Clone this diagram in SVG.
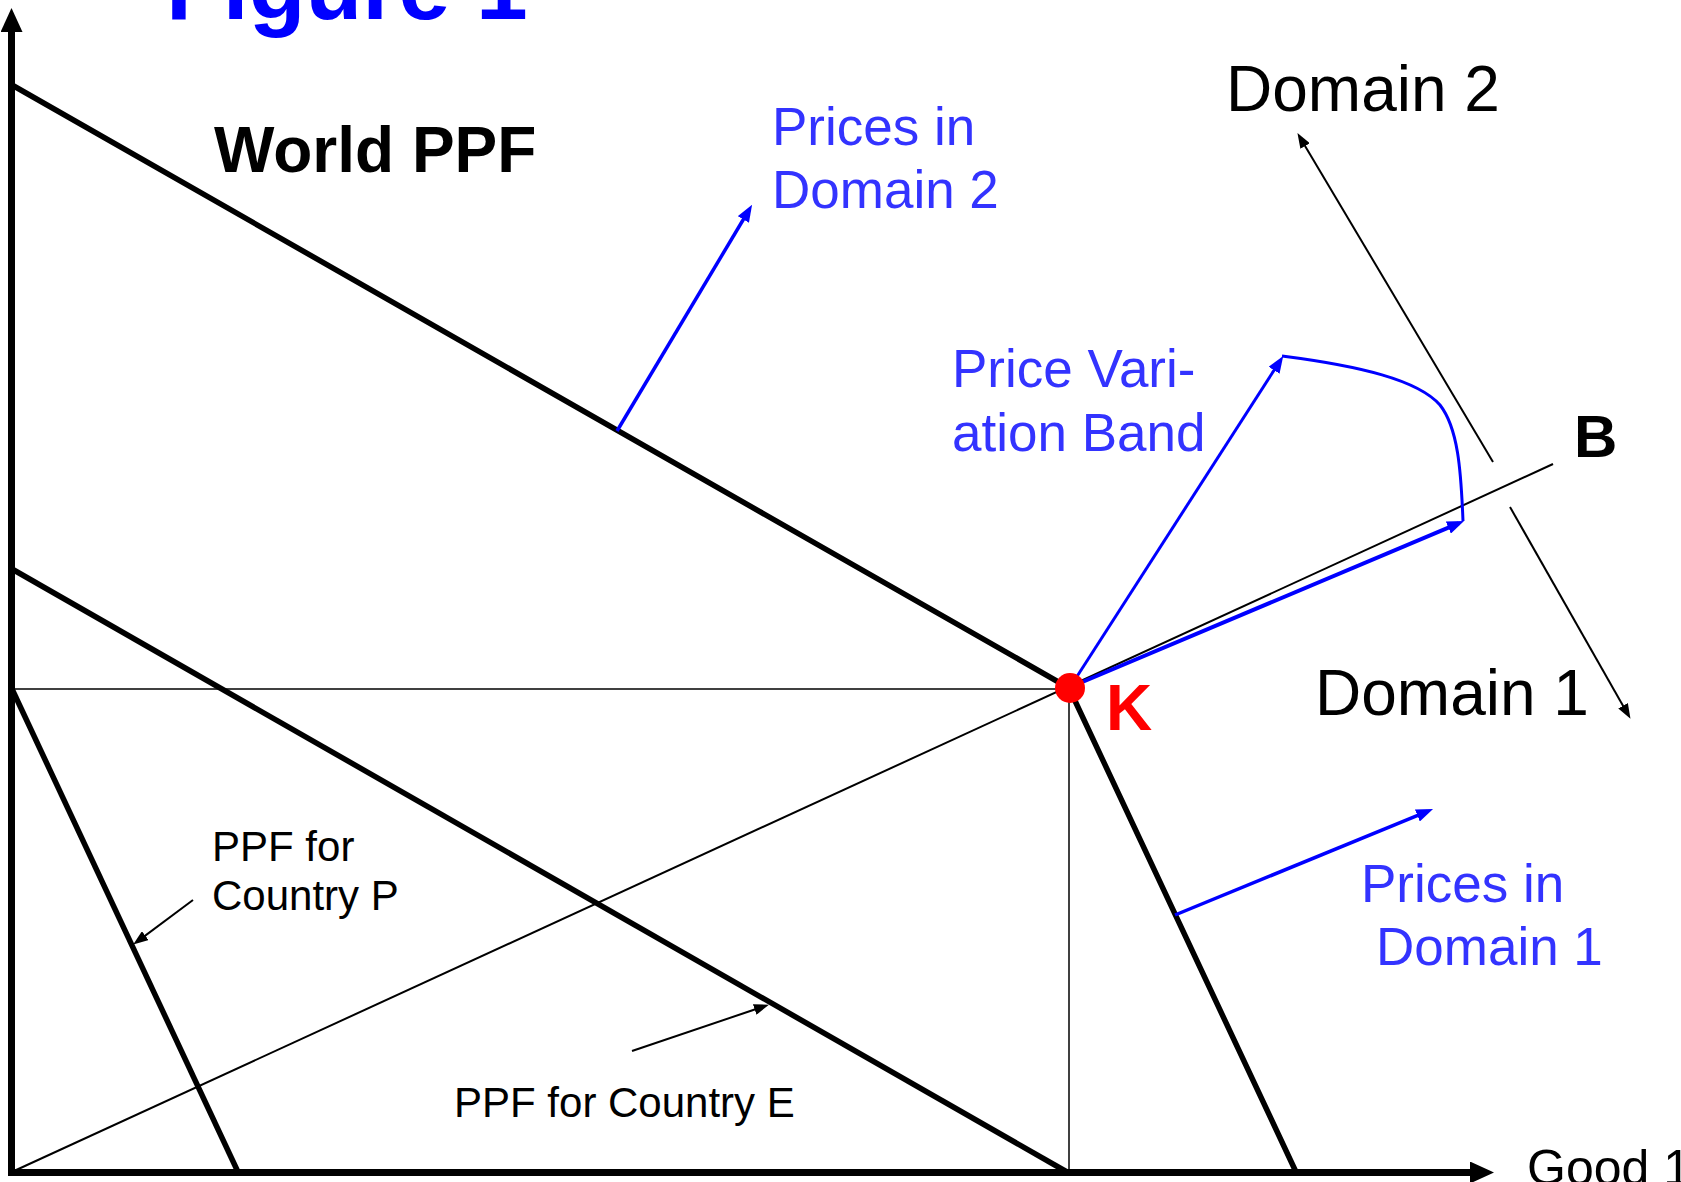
<svg xmlns="http://www.w3.org/2000/svg" width="1681" height="1182" viewBox="0 0 1681 1182">
<defs>
<style>
text{font-family:"Liberation Sans",Arial,sans-serif;}
.thick{stroke:#000;stroke-width:5.5;fill:none;}
.thin{stroke:#000;stroke-width:1.5;fill:none;}
.thin2{stroke:#000;stroke-width:2;fill:none;}
.axis{stroke:#000;stroke-width:7;fill:none;}
.blue{stroke:#0000FF;stroke-width:3.5;fill:none;}
.lbl{font-size:42px;fill:#000;}
.dom{font-size:64px;fill:#000;}
.bl{font-size:53px;fill:#3333FF;}
</style>
<marker id="axisHead" viewBox="0 0 24 22" refX="0" refY="11" markerWidth="24" markerHeight="22" markerUnits="userSpaceOnUse" orient="auto"><path d="M0,0 L24,11 L0,22 z" fill="#000"/></marker>
<marker id="blackHead" viewBox="0 0 15 11" refX="10" refY="5.5" markerWidth="15" markerHeight="11" markerUnits="userSpaceOnUse" orient="auto"><path d="M0,0 L15,5.5 L0,11 z" fill="#000"/></marker>
<marker id="blueHead" viewBox="0 0 17 13" refX="11" refY="6.5" markerWidth="17" markerHeight="13" markerUnits="userSpaceOnUse" orient="auto"><path d="M0,0 L17,6.5 L0,13 z" fill="#0000FF"/></marker>
</defs>
<rect width="1681" height="1182" fill="#fff"/>

<g id="connectors">
  <line class="thin" x1="12" y1="689" x2="1069" y2="689"/>
  <line class="thin" x1="1069" y1="689" x2="1069" y2="1172"/>
  <line class="thin2" x1="14" y1="1171" x2="1553" y2="464"/>
  <polyline class="thick" points="12,85 1069,688 1296,1172"/>
  <line class="thick" x1="12" y1="569" x2="1067" y2="1172"/>
  <line class="thick" x1="12" y1="689" x2="238" y2="1172"/>
  <line class="axis" x1="11.5" y1="1176" x2="11.5" y2="32" marker-end="url(#axisHead)"/>
  <line class="axis" x1="8" y1="1172.5" x2="1470" y2="1172.5" marker-end="url(#axisHead)"/>
  <line class="thin2" x1="1493" y1="462" x2="1300" y2="137.4" marker-end="url(#blackHead)"/>
  <line class="thin2" x1="1510" y1="507" x2="1628" y2="714.5" marker-end="url(#blackHead)"/>
  <line class="thin2" x1="193" y1="900" x2="137.2" y2="941.6" marker-end="url(#blackHead)"/>
  <line class="thin2" x1="632" y1="1051" x2="764.2" y2="1006.3" marker-end="url(#blackHead)"/>
  <line class="blue" x1="617" y1="431" x2="749" y2="210" marker-end="url(#blueHead)"/>
  <line class="blue" x1="1175" y1="915" x2="1427.5" y2="811.3" marker-end="url(#blueHead)"/>
  <line class="blue" style="stroke-width:3" x1="1076" y1="678" x2="1280" y2="361" marker-end="url(#blueHead)"/>
  <line class="blue" style="stroke-width:4" x1="1080" y1="683" x2="1458.5" y2="523.3" marker-end="url(#blueHead)"/>
  <path class="blue" style="stroke-width:3" d="M1282,356 C1360,366 1418,380 1440,405 C1458,428 1461,470 1463,521"/>
</g>

<g id="title"><text x="166" y="19" style="font-size:93px;font-weight:bold;fill:#0000FF">Figure 1</text></g>
<g id="world-ppf"><text x="214" y="172" style="font-size:64px;font-weight:bold">World PPF</text></g>
<g id="prices-domain2"><text class="bl" x="772" y="145">Prices in</text><text class="bl" x="772" y="208">Domain 2</text></g>
<g id="price-band"><text class="bl" x="952" y="387">Price Vari-</text><text class="bl" x="952" y="451">ation Band</text></g>
<g id="prices-domain1"><text class="bl" x="1361" y="902">Prices in</text><text class="bl" x="1376" y="965">Domain 1</text></g>
<g id="domain2"><text class="dom" x="1226" y="111">Domain 2</text></g>
<g id="domain1"><text class="dom" x="1315" y="715">Domain 1</text></g>
<g id="B"><text x="1574" y="457" style="font-size:60px;font-weight:bold">B</text></g>
<g id="K"><circle cx="1070" cy="688" r="15" fill="#FF0000"/><text x="1106" y="730" style="font-size:64px;font-weight:bold;fill:#FF0000">K</text></g>
<g id="ppf-p"><text class="lbl" x="212" y="861">PPF for</text><text class="lbl" x="212" y="910">Country P</text></g>
<g id="ppf-e"><text class="lbl" x="454" y="1117">PPF for Country E</text></g>
<g id="good1"><text x="1527" y="1185" style="font-size:50px">Good 1</text></g>
</svg>
